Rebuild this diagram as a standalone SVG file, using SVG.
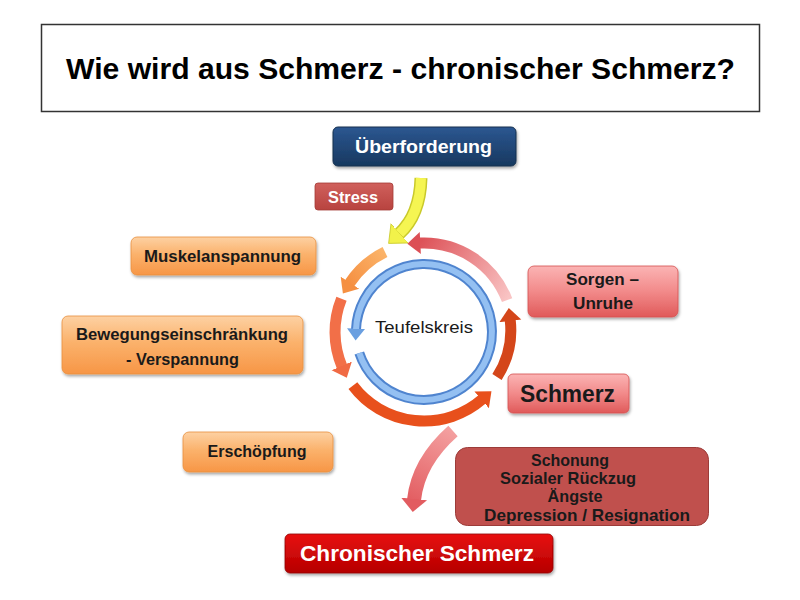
<svg xmlns="http://www.w3.org/2000/svg" width="800" height="600" viewBox="0 0 800 600">
<defs>
<style>
text{font-family:"Liberation Sans",Arial,sans-serif;font-weight:bold;text-anchor:middle}
.dark{fill:#1a1a1a}
.white{fill:#ffffff}
.arc{fill:none;stroke-linecap:butt}
</style>
<filter id="sh" x="-10%" y="-20%" width="125%" height="150%">
<feDropShadow dx="1" dy="2" stdDeviation="1.5" flood-color="#000" flood-opacity="0.35"/>
</filter>
<linearGradient id="gOrange" x1="0" y1="0" x2="0" y2="1">
<stop offset="0" stop-color="#fdd1a3"/><stop offset="0.45" stop-color="#fbb26c"/><stop offset="1" stop-color="#f79646"/>
</linearGradient>
<linearGradient id="gPink" x1="0" y1="0" x2="0" y2="1">
<stop offset="0" stop-color="#fbb4b4"/><stop offset="0.5" stop-color="#f28a8a"/><stop offset="1" stop-color="#e05a5a"/>
</linearGradient>
<linearGradient id="gBlue" x1="0" y1="0" x2="0" y2="1">
<stop offset="0" stop-color="#2c5791"/><stop offset="1" stop-color="#17385f"/>
</linearGradient>
<linearGradient id="gStress" x1="0" y1="0" x2="0" y2="1">
<stop offset="0" stop-color="#d0605c"/><stop offset="1" stop-color="#b8433f"/>
</linearGradient>
<linearGradient id="gRed" x1="0" y1="0" x2="0" y2="1">
<stop offset="0" stop-color="#e81010"/><stop offset="1" stop-color="#b50000"/>
</linearGradient>
<linearGradient id="gArcPink" gradientUnits="userSpaceOnUse" x1="507" y1="300" x2="420" y2="243">
<stop offset="0" stop-color="#f9c4c4"/><stop offset="1" stop-color="#dd5258"/>
</linearGradient>
<linearGradient id="gArcOrange" gradientUnits="userSpaceOnUse" x1="385" y1="252" x2="349" y2="284">
<stop offset="0" stop-color="#fbb46a"/><stop offset="1" stop-color="#f59042"/>
</linearGradient>
<linearGradient id="gDown" gradientUnits="userSpaceOnUse" x1="453" y1="430" x2="414" y2="505">
<stop offset="0" stop-color="#f4a0a0"/><stop offset="1" stop-color="#e25c60"/>
</linearGradient>
<marker id="mPink" markerUnits="userSpaceOnUse" markerWidth="16" markerHeight="24" refX="1" refY="12" orient="auto"><path d="M0,1 L13,12 L0,23 Z" fill="#dc4f55"/></marker>
<marker id="mOrange" markerUnits="userSpaceOnUse" markerWidth="16" markerHeight="24" refX="1" refY="12" orient="auto"><path d="M0,1 L13,12 L0,23 Z" fill="#f59042"/></marker>
<marker id="mCoral" markerUnits="userSpaceOnUse" markerWidth="16" markerHeight="24" refX="1" refY="12" orient="auto"><path d="M0,1 L13,12 L0,23 Z" fill="#f06a44"/></marker>
<marker id="mRedOr" markerUnits="userSpaceOnUse" markerWidth="16" markerHeight="24" refX="1" refY="12" orient="auto"><path d="M0,1 L13,12 L0,23 Z" fill="#e8501c"/></marker>
<marker id="mDark" markerUnits="userSpaceOnUse" markerWidth="16" markerHeight="24" refX="1" refY="12" orient="auto"><path d="M0,1 L13,12 L0,23 Z" fill="#d4461a"/></marker>
<marker id="mBlue" markerUnits="userSpaceOnUse" markerWidth="16" markerHeight="22" refX="1" refY="11" orient="auto"><path d="M0,2 L12,11 L0,20 Z" fill="#6a9fe0"/></marker>
<marker id="mYellow" markerUnits="userSpaceOnUse" markerWidth="18" markerHeight="28" refX="1" refY="14" orient="auto"><path d="M0,1 L15,14 L0,27 Z" fill="#f2f24a" stroke="#c9c92a" stroke-width="0.8"/></marker>
<marker id="mDown" markerUnits="userSpaceOnUse" markerWidth="16" markerHeight="28" refX="1" refY="14" orient="auto"><path d="M0,1 L13,14 L0,27 Z" fill="#e25c60"/></marker>
</defs>

<rect width="800" height="600" fill="#ffffff"/>

<g id="title">
<rect x="41.5" y="24.5" width="718" height="87" fill="#ffffff" stroke="#333333" stroke-width="1.5"/>
<text x="400.5" y="79" font-size="30" textLength="669" lengthAdjust="spacingAndGlyphs" fill="#000">Wie wird aus Schmerz - chronischer Schmerz?</text>
</g>

<g id="connectors">
<path class="arc" d="M 421 178 Q 420 215 399 234" stroke="#c9c92a" stroke-width="13"/>
<path class="arc" d="M 421 178 Q 420 215 399 234" stroke="#f5f552" stroke-width="10" marker-end="url(#mYellow)"/>
<path class="arc" d="M 507.1 300.1 A 89 89 0 0 0 419.3 243.1" stroke="url(#gArcPink)" stroke-width="11" marker-end="url(#mPink)"/>
<path class="arc" d="M 385 252 A 89 89 0 0 0 349.4 283.5" stroke="url(#gArcOrange)" stroke-width="11" marker-end="url(#mOrange)"/>
<path class="arc" d="M 341.5 298.7 A 89 89 0 0 0 342.1 366.8" stroke="#f26f48" stroke-width="11" marker-end="url(#mCoral)"/>
<path class="arc" d="M 352.9 385.6 A 89 89 0 0 0 482.4 399.2" stroke="#e8501c" stroke-width="11" marker-end="url(#mRedOr)"/>
<path class="arc" d="M 497 377 A 87 87 0 0 0 510.2 319.9" stroke="#d4461a" stroke-width="11" marker-end="url(#mDark)"/>
<path class="arc" d="M 453 431 Q 418 462 414 500" stroke="url(#gDown)" stroke-width="14" marker-end="url(#mDown)"/>
</g>

<g id="teufelskreis">
<path class="arc" d="M 359.3 353 A 68 68 0 1 0 356 329.6" stroke="#4f84cf" stroke-width="10"/>
<path class="arc" d="M 359.3 353 A 68 68 0 1 0 356 329.6" stroke="#94c0f2" stroke-width="6" marker-end="url(#mBlue)"/>
<text x="424" y="333" font-size="17" textLength="98" lengthAdjust="spacingAndGlyphs" fill="#1a1a1a" style="font-weight:normal">Teufelskreis</text>
</g>

<g id="ueberforderung">
<rect x="333" y="127" width="183" height="39" rx="5" fill="url(#gBlue)" stroke="#14304f" filter="url(#sh)"/>
<text class="white" x="423.5" y="153" font-size="18" textLength="137" lengthAdjust="spacingAndGlyphs">Überforderung</text>
</g>

<g id="stress">
<rect x="315" y="183" width="78" height="27" rx="3" fill="url(#gStress)" stroke="#a33a36" stroke-width="0.8"/>
<text class="white" x="353" y="203" font-size="16" textLength="50" lengthAdjust="spacingAndGlyphs">Stress</text>
</g>

<g id="muskelanspannung">
<rect x="131" y="237" width="185" height="38" rx="6" fill="url(#gOrange)" stroke="#e8903f" stroke-width="0.8" filter="url(#sh)"/>
<text class="dark" x="222.5" y="262" font-size="17" textLength="157" lengthAdjust="spacingAndGlyphs">Muskelanspannung</text>
</g>

<g id="bewegung">
<rect x="62" y="316" width="241" height="58" rx="6" fill="url(#gOrange)" stroke="#e8903f" stroke-width="0.8" filter="url(#sh)"/>
<text class="dark" x="182" y="340" font-size="17" textLength="212" lengthAdjust="spacingAndGlyphs">Bewegungseinschränkung</text>
<text class="dark" x="182.5" y="365" font-size="17" textLength="113" lengthAdjust="spacingAndGlyphs">- Verspannung</text>
</g>

<g id="erschoepfung">
<rect x="183" y="432" width="150" height="40" rx="6" fill="url(#gOrange)" stroke="#e8903f" stroke-width="0.8" filter="url(#sh)"/>
<text class="dark" x="257" y="457" font-size="17" textLength="99" lengthAdjust="spacingAndGlyphs">Erschöpfung</text>
</g>

<g id="sorgen">
<rect x="528" y="266" width="150" height="51" rx="6" fill="url(#gPink)" stroke="#d65050" stroke-width="0.8" filter="url(#sh)"/>
<text class="dark" x="602.5" y="285" font-size="17" textLength="73" lengthAdjust="spacingAndGlyphs">Sorgen –</text>
<text class="dark" x="603" y="309" font-size="17" textLength="60" lengthAdjust="spacingAndGlyphs">Unruhe</text>
</g>

<g id="schmerz">
<rect x="508" y="374" width="121" height="39" rx="5" fill="url(#gPink)" stroke="#d65050" stroke-width="0.8" filter="url(#sh)"/>
<text class="dark" x="567.5" y="402" font-size="23" textLength="95" lengthAdjust="spacingAndGlyphs">Schmerz</text>
</g>

<g id="folgen">
<rect x="455.5" y="447.5" width="253" height="78" rx="12" fill="#c0504d" stroke="#9c3c39" stroke-width="1"/>
<text class="dark" x="570" y="466" font-size="17" textLength="78" lengthAdjust="spacingAndGlyphs">Schonung</text>
<text class="dark" x="568" y="484" font-size="17" textLength="136" lengthAdjust="spacingAndGlyphs">Sozialer Rückzug</text>
<text class="dark" x="575" y="502" font-size="17" textLength="55" lengthAdjust="spacingAndGlyphs">Ängste</text>
<text class="dark" x="587" y="521" font-size="17" textLength="206" lengthAdjust="spacingAndGlyphs">Depression / Resignation</text>
</g>

<g id="chronisch">
<rect x="285" y="534" width="268" height="39" rx="5" fill="url(#gRed)" stroke="#8f0000" stroke-width="0.8" filter="url(#sh)"/>
<text class="white" x="417" y="561" font-size="22" textLength="234" lengthAdjust="spacingAndGlyphs">Chronischer Schmerz</text>
</g>
</svg>
